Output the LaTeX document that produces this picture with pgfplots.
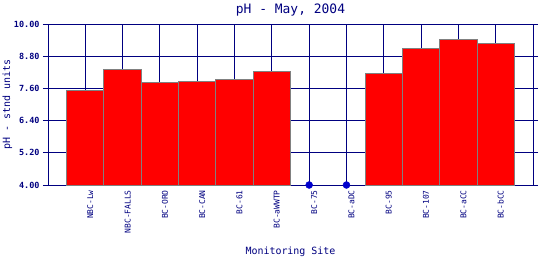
\documentclass[border=0pt]{standalone}
\usepackage{fontspec}
\setmainfont{DejaVu Sans Mono}
\usepackage{pgfplots}
\pgfplotsset{compat=1.18}
\definecolor{navyc}{RGB}{0,0,128}
\definecolor{dotblue}{RGB}{0,0,205}
\definecolor{bargray}{RGB}{128,128,128}
\begin{document}
\begin{tikzpicture}
\begin{axis}[
  scale only axis,
  width=485bp, height=161bp,
  xmin=-1, xmax=12,
  ymin=4, ymax=10,
  ytick={4,5.2,6.4,7.6,8.8,10},
  xtick={0,...,11},
  xticklabels={NBC-Lw,NBC-FALLS,BC-ORO,BC-CAN,BC-61,BC-aWWTP,BC-75,BC-aDC,BC-95,BC-107,BC-aCC,BC-bCC},
  x tick label style={rotate=90, anchor=east, font=\fontsize{8}{9}\selectfont, text=navyc, inner sep=0pt, yshift=-5bp},
  y tick label style={font=\fontsize{8.5}{10}\selectfont\bfseries, text=navyc, /pgf/number format/fixed, /pgf/number format/fixed zerofill, /pgf/number format/precision=2},
  /pgf/number format/assume math mode=true,
  xtick style={draw=none},
  ytick style={draw=navyc, line width=1bp},
  tick align=outside,
  major tick length=5bp,
  grid=major,
  major grid style={draw=navyc, line width=1bp},
  axis line style={draw=navyc, line width=1bp},
  title={pH - May, 2004},
  title style={font=\fontsize{13}{15}\selectfont, text=navyc, yshift=-2bp},
  xlabel={Monitoring Site},
  xlabel style={font=\fontsize{10}{12}\selectfont, text=navyc, yshift=-10bp},
  ylabel={pH - stnd units},
  ylabel style={font=\fontsize{10}{12}\selectfont, text=navyc, yshift=-5bp},
]
\addplot[ybar, bar width=1, fill=red, draw=bargray, line width=1bp] coordinates {
(0,7.54) (1,8.31) (2,7.82) (3,7.87) (4,7.93) (5,8.24) (8,8.16) (9,9.09) (10,9.43) (11,9.28)};
\addplot[only marks, mark=*, mark size=3.5bp, color=dotblue] coordinates {(6,4) (7,4)};
\coordinate (ll) at (rel axis cs:0,0);
\coordinate (ur) at (rel axis cs:1,1);
\end{axis}
\pgfresetboundingbox
\path[use as bounding box] ([shift={(-48bp,-75bp)}]ll) rectangle ([shift={(7bp,24bp)}]ur);
\end{tikzpicture}
\end{document}
